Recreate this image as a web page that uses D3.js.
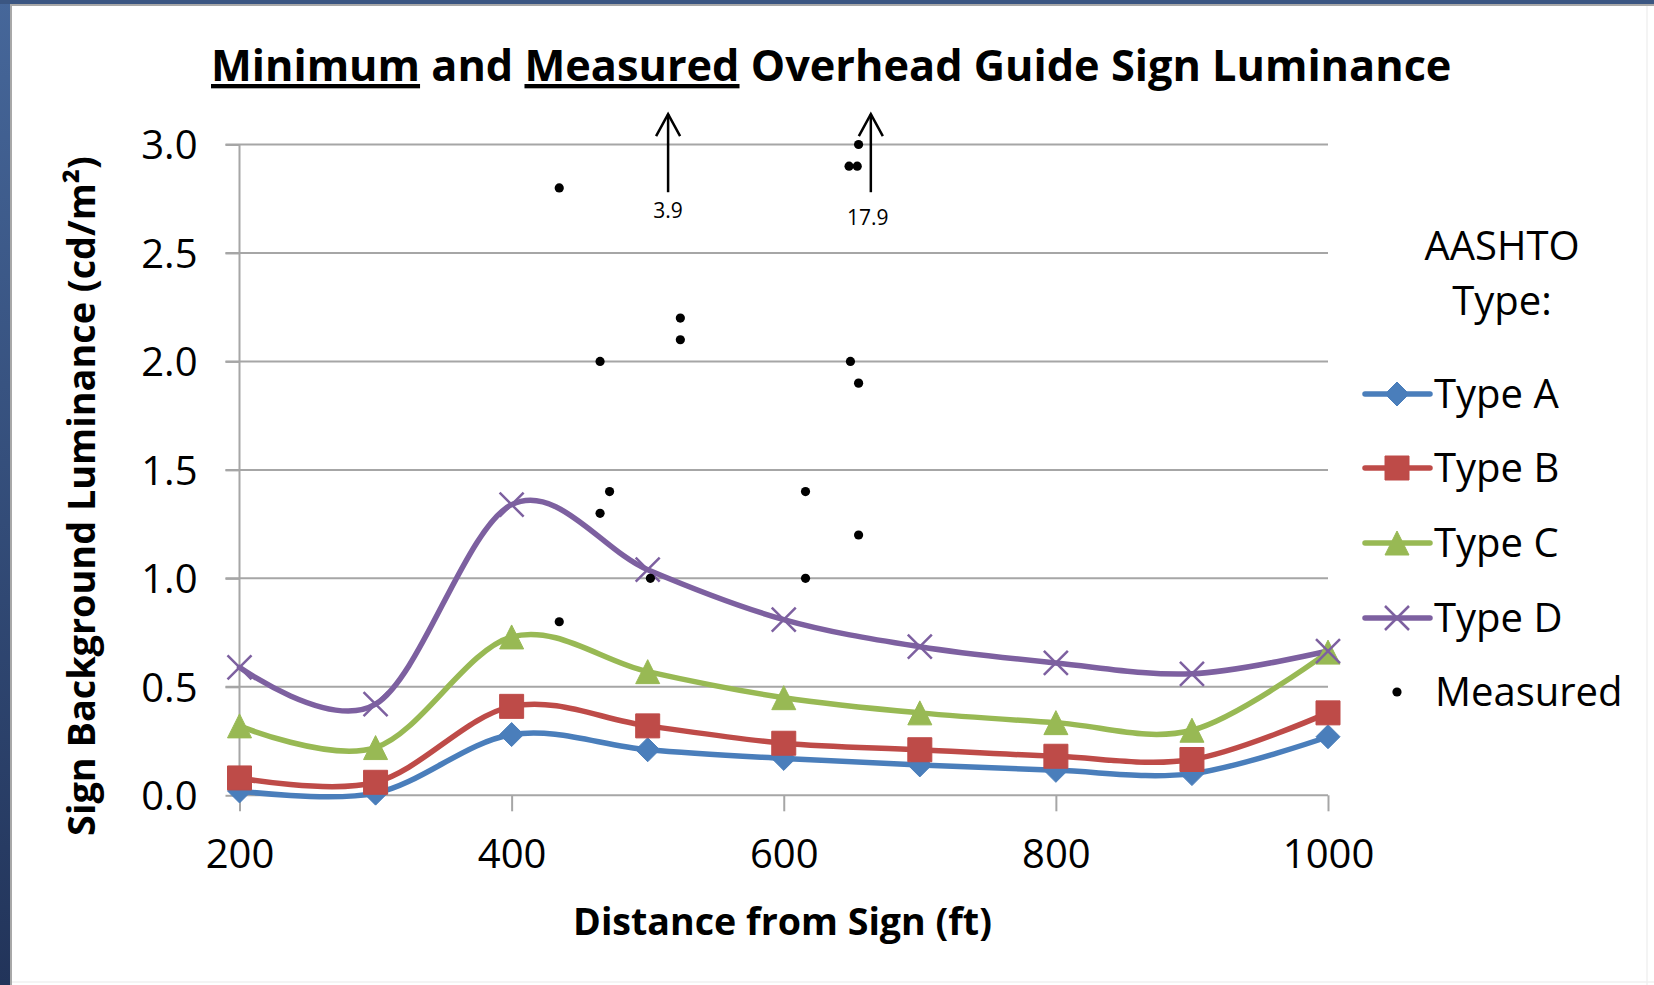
<!DOCTYPE html>
<html>
<head>
<meta charset="utf-8">
<script src="https://cdn.jsdelivr.net/npm/d3@7"></script>
<style>
  html, body { margin: 0; padding: 0; background: #fff; }
  svg { display: block; }
  text { font-family: "Open Sans", "DejaVu Sans", sans-serif; fill: #000; }
</style>
</head>
<body>
<svg id="chart" width="1654" height="985"></svg>
<script>
// ---------------- DATA ----------------
const distances = [200, 300, 400, 500, 600, 700, 800, 900, 1000];
const typeA = [0.02, 0.01, 0.28, 0.21, 0.17, 0.14, 0.115, 0.10, 0.27];
const typeB = [0.08, 0.06, 0.41, 0.32, 0.24, 0.21, 0.18, 0.165, 0.38];
const typeC = [0.32, 0.22, 0.73, 0.57, 0.45, 0.38, 0.335, 0.30, 0.66];
const typeD = [0.59, 0.42, 1.34, 1.04, 0.81, 0.685, 0.61, 0.56, 0.665];
const seriesNames = ["Type A", "Type B", "Type C", "Type D"];
const measuredDist = [435, 655, 648, 654, 524, 524, 465, 649, 655, 472, 465, 616, 655, 502, 616, 435];
const measuredLum  = [2.8, 3.0, 2.9, 2.9, 2.2, 2.1, 2.0, 2.0, 1.9, 1.4, 1.3, 1.4, 1.2, 1.0, 1.0, 0.8];
const offscaleDist = [515, 664];
const offscaleLabels = ["3.9", "17.9"];
const xTickValues = [200, 400, 600, 800, 1000];
const yTickValues = [0, 0.5, 1.0, 1.5, 2.0, 2.5, 3.0];
const titleParts = [["Minimum", true], [" and ", false], ["Measured", true], [" Overhead Guide Sign Luminance", false]];
const yTitle = "Sign Background Luminance (cd/m\u00B2)";
const xTitle = "Distance from Sign (ft)";
const legendHeader = ["AASHTO", "Type:"];

// ---------------- STYLE ----------------
const colors = ["#4A7EBB", "#BE4B48", "#98B954", "#7D60A0"];
const markerTypes = ["diamond", "square", "triangle", "x"];

const svg = d3.select("#chart");
const W = 1654, H = 985;

// background frame
const defs = svg.append("defs");
const grad = defs.append("linearGradient").attr("id", "sideGrad").attr("x1", 0).attr("y1", 0).attr("x2", 0).attr("y2", 1);
grad.append("stop").attr("offset", "0%").attr("stop-color", "#46679a");
grad.append("stop").attr("offset", "100%").attr("stop-color", "#22345a");
svg.append("rect").attr("width", W).attr("height", H).attr("fill", "#fff");
svg.append("rect").attr("x", 0).attr("y", 0).attr("width", 10).attr("height", H).attr("fill", "url(#sideGrad)");
svg.append("rect").attr("x", 0).attr("y", 0).attr("width", W).attr("height", 4).attr("fill", "#3b5682");
svg.append("line").attr("x1", 11).attr("x2", 11).attr("y1", 4).attr("y2", H).attr("stroke", "#a8a8a8").attr("stroke-width", 2);
svg.append("line").attr("x1", 10).attr("x2", W).attr("y1", 5).attr("y2", 5).attr("stroke", "#a8a8a8").attr("stroke-width", 2);
svg.append("line").attr("x1", 1647).attr("x2", 1647).attr("y1", 6).attr("y2", H).attr("stroke", "#f0f0f0").attr("stroke-width", 1.5);
svg.append("line").attr("x1", 12).attr("x2", W).attr("y1", 982).attr("y2", 982).attr("stroke", "#f0f0f0").attr("stroke-width", 1.5);

// ---------------- SCALES ----------------
const plot = { left: 239.5, right: 1328, top: 144.5, bottom: 795.3 };
const x = d3.scaleLinear().domain([200, 1000]).range([plot.left, plot.right]);
const y = d3.scaleLinear().domain([0, 3]).range([plot.bottom, plot.top]);

// gridlines
const g = svg.append("g");
g.selectAll("line.grid").data(yTickValues.filter(v => v > 0)).join("line")
  .attr("x1", plot.left - 14).attr("x2", plot.right)
  .attr("y1", d => y(d)).attr("y2", d => y(d))
  .attr("stroke", "#a6a6a6").attr("stroke-width", 2);

// y axis
const yAxis = d3.axisLeft(y).tickValues(yTickValues).tickFormat(d3.format(".1f")).tickSize(14).tickPadding(28);
const yAx = svg.append("g").attr("transform", `translate(${plot.left},0)`).call(yAxis);
yAx.select(".domain").attr("stroke", "#a6a6a6").attr("stroke-width", 2).attr("d", `M0,${plot.top}V${plot.bottom}`);
yAx.selectAll(".tick line").attr("stroke", "#a6a6a6").attr("stroke-width", 2);
yAx.selectAll(".tick text").attr("font-size", 40).attr("font-family", "Open Sans").attr("fill", "#000").attr("dy", "0.36em");

// x axis
const xAxis = d3.axisBottom(x).tickValues(xTickValues).tickFormat(d3.format("d")).tickSize(16).tickPadding(28);
const xAx = svg.append("g").attr("transform", `translate(0,${plot.bottom})`).call(xAxis);
xAx.select(".domain").attr("stroke", "#a6a6a6").attr("stroke-width", 2).attr("d", `M${plot.left},0H${plot.right}`);
xAx.selectAll(".tick line").attr("stroke", "#a6a6a6").attr("stroke-width", 2);
xAx.selectAll(".tick text").attr("font-size", 40).attr("font-family", "Open Sans").attr("fill", "#000").attr("dy", "0.71em");

// ---------------- SERIES ----------------
const allSeries = [typeA, typeB, typeC, typeD];
const line = d3.line().x(d => x(d[0])).y(d => y(d[1])).curve(d3.curveCardinal.tension(0));

function markerPath(type, s) {
  const h = s / 2;
  switch (type) {
    case "diamond": return `M0,${-h}L${h},0L0,${h}L${-h},0Z`;
    case "square": return `M${-h},${-h}H${h}V${h}H${-h}Z`;
    case "triangle": return `M0,${-h}L${h},${h}H${-h}Z`;
    case "x": return `M${-h},${-h}L${h},${h}M${h},${-h}L${-h},${h}`;
  }
}
function drawMarker(sel, type, color, size) {
  const p = sel.append("path").attr("d", markerPath(type, size));
  if (type === "x") p.attr("fill", "none").attr("stroke", color).attr("stroke-width", 2.5);
  else p.attr("fill", color).attr("stroke", color).attr("stroke-width", 1);
  return p;
}

const seriesG = svg.append("g");
allSeries.forEach((vals, i) => {
  const pts = distances.map((d, j) => [d, vals[j]]);
  seriesG.append("path").datum(pts).attr("d", line)
    .attr("fill", "none").attr("stroke", colors[i]).attr("stroke-width", 5.5)
    .attr("stroke-linejoin", "round").attr("stroke-linecap", "round");
});
allSeries.forEach((vals, i) => {
  distances.forEach((d, j) => {
    const mg = seriesG.append("g").attr("transform", `translate(${x(d)},${y(vals[j])})`);
    drawMarker(mg, markerTypes[i], colors[i], 24);
  });
});

// measured points
svg.append("g").selectAll("circle").data(measuredDist.map((d, i) => [d, measuredLum[i]])).join("circle")
  .attr("cx", d => x(d[0])).attr("cy", d => y(d[1])).attr("r", 4.6).attr("fill", "#000");

// off-scale arrows
offscaleDist.forEach((d, i) => {
  const ax = x(d);
  const y0 = y(2.78), y1 = y(3.14);
  const ag = svg.append("g");
  ag.append("line").attr("x1", ax).attr("x2", ax).attr("y1", y0).attr("y2", y1)
    .attr("stroke", "#000").attr("stroke-width", 2.5);
  ag.append("path").attr("d", `M${ax - 12},${y1 + 22}L${ax},${y1}L${ax + 12},${y1 + 22}`)
    .attr("fill", "none").attr("stroke", "#000").attr("stroke-width", 2.5);
  ag.append("text").attr("x", ax - (i === 1 ? 3 : 0)).attr("y", y0 + (i === 0 ? 26 : 33))
    .attr("text-anchor", "middle").attr("font-size", 21).text(offscaleLabels[i]);
});

// ---------------- TITLES ----------------
function fitText(sel, target) {
  const len = sel.node().getComputedTextLength();
  const fs = parseFloat(sel.attr("font-size"));
  sel.attr("font-size", fs * target / len);
}
const title = svg.append("text").attr("x", 211).attr("y", 81).attr("font-size", 45).attr("font-weight", "bold");
titleParts.forEach(([t, u]) => {
  const ts = title.append("tspan").text(t);
  if (u) ts.style("text-decoration", "underline");
});
fitText(title, 1241);

const yt = svg.append("text").attr("transform", "translate(95,496) rotate(-90)")
  .attr("text-anchor", "middle").attr("font-size", 36).attr("font-weight", "bold").text(yTitle);
fitText(yt, 680);

const xt = svg.append("text").attr("x", 782.5).attr("y", 935)
  .attr("text-anchor", "middle").attr("font-size", 36).attr("font-weight", "bold").text(xTitle);
fitText(xt, 419);

// ---------------- LEGEND ----------------
const lg = svg.append("g");
lg.append("text").attr("x", 1502).attr("y", 260).attr("text-anchor", "middle").attr("font-size", 40).text(legendHeader[0]);
lg.append("text").attr("x", 1502).attr("y", 315).attr("text-anchor", "middle").attr("font-size", 40).text(legendHeader[1]);
const rowY = [394, 468, 543, 618];
seriesNames.forEach((name, i) => {
  const ry = rowY[i];
  lg.append("line").attr("x1", 1365).attr("x2", 1430).attr("y1", ry).attr("y2", ry)
    .attr("stroke", colors[i]).attr("stroke-width", 5.5).attr("stroke-linecap", "round");
  const mg = lg.append("g").attr("transform", `translate(1397,${ry})`);
  drawMarker(mg, markerTypes[i], colors[i], 24);
  lg.append("text").attr("x", 1434).attr("y", ry + 14).attr("font-size", 40).text(name);
});
lg.append("circle").attr("cx", 1397).attr("cy", 692).attr("r", 4.6).attr("fill", "#000");
lg.append("text").attr("x", 1435).attr("y", 706).attr("font-size", 40).text("Measured");
</script>
</body>
</html>
